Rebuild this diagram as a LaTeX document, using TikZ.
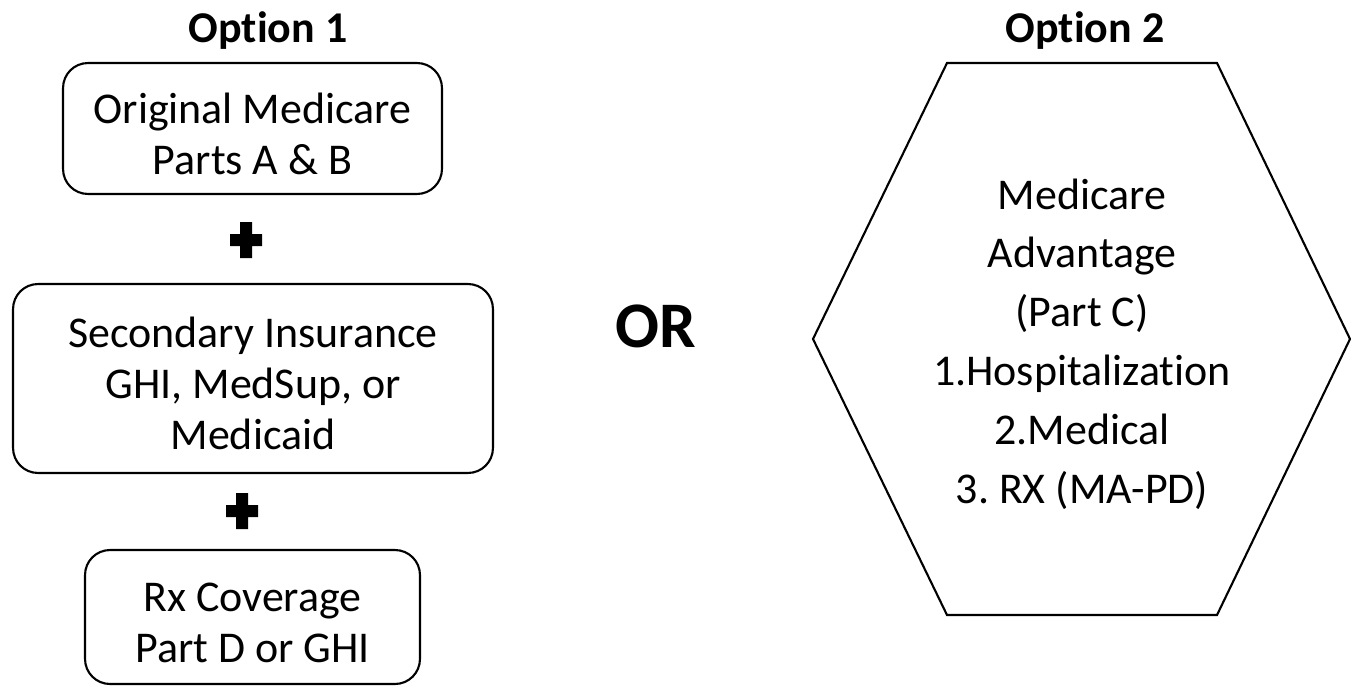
\documentclass[tikz,border=0pt]{standalone}
\usepackage{fontspec}
\setmainfont{Carlito}[Ligatures=NoCommon]
\usetikzlibrary{positioning}
\frenchspacing
\newcommand\toplift{\rule{0pt}{23pt}}

\tikzset{
  planbox/.style={draw, line width=1.2pt, rounded corners=0.5cm, align=center,
    inner sep=0pt, font=\fontsize{25}{29}\selectfont},
  optiontitle/.style={font=\bfseries\fontsize{25}{29}\selectfont},
  plusmark/.style={fill=black},
}

\begin{document}
\begin{tikzpicture}[x=0.02cm, y=-0.02cm]
\useasboundingbox (0,0) rectangle (1351,696);

% option 1: original medicare + extras
\node[optiontitle] (opt1) at (268,31) {Option 1};
\node[planbox, minimum width=7.58cm, minimum height=2.62cm] (orig) at (252.5,128.5)
  {\toplift Original Medicare\\Parts A \& B};
\node[planbox, minimum width=9.6cm, minimum height=3.78cm] (second) at (253,378.5)
  {\toplift Secondary Insurance\\GHI, MedSup, or\\Medicaid};
\node[planbox, minimum width=6.7cm, minimum height=2.68cm] (rx) at (252.5,617)
  {\toplift Rx Coverage\\Part D or GHI};
\coordinate (plusA) at (246,240);
\coordinate (plusB) at (242,511);
\foreach \p in {plusA,plusB}
  \fill[plusmark, shift={(\p)}] (-6,-18) rectangle (6,18) (-16,-6) rectangle (16,6);

\node[font=\bfseries\fontsize{37}{40}\selectfont] (or) at (656,326) {OR};

% option 2: medicare advantage
\coordinate (hexc) at (1082,339);
\node[align=center, font=\fontsize{25}{33.5}\selectfont] (adv) at (1082,344)
  {Medicare\\Advantage\\(Part C)\\1.Hospitalization\\2.Medical\\3. RX (MA-PD)};
\node[optiontitle] (opt2) at (1085,31) {Option 2};
\draw[line width=1.2pt] (hexc) ++(-135,-276) -- ++(270,0) -- ++(133,276)
  -- ++(-133,276) -- ++(-270,0) -- ++(-134,-276) -- cycle;
\end{tikzpicture}
\end{document}
